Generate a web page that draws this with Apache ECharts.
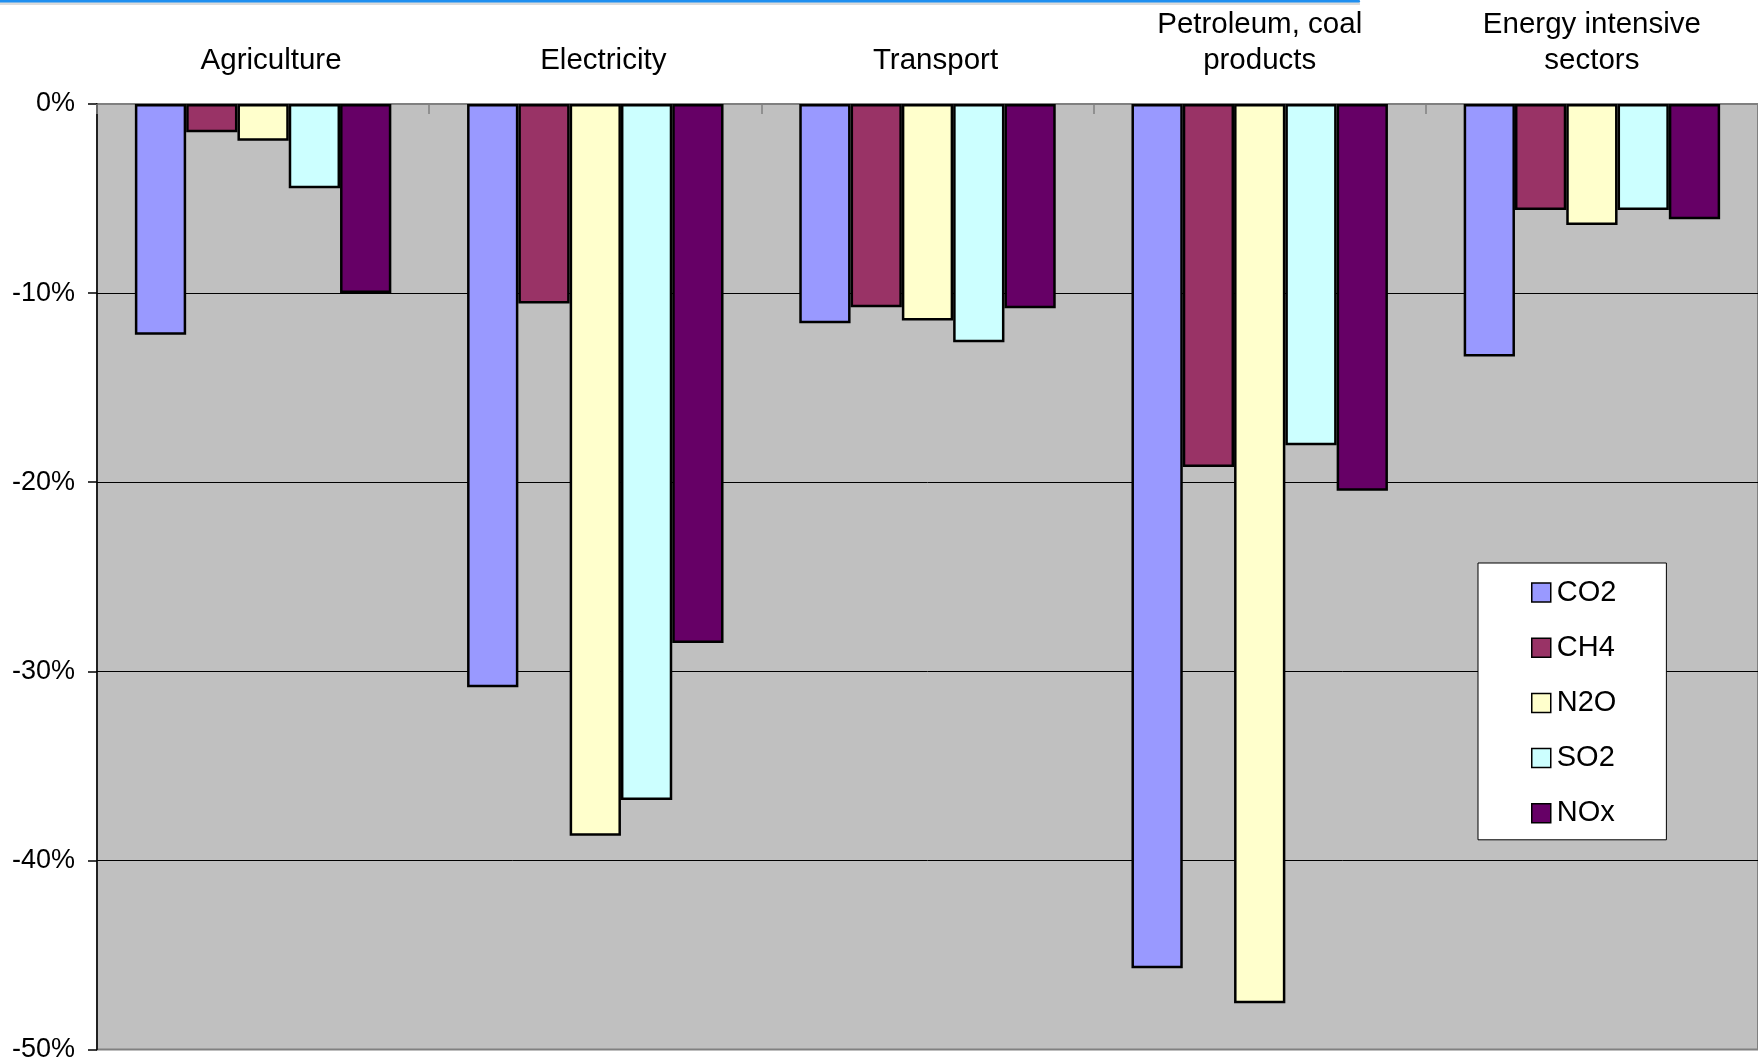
<!DOCTYPE html>
<html>
<head>
<meta charset="utf-8">
<script src="https://cdn.jsdelivr.net/npm/echarts@6/dist/echarts.min.js"></script>
<style>
  html, body { margin: 0; padding: 0; background: #ffffff; }
  #chart { width: 1758px; height: 1063px; }
</style>
</head>
<body>
<div id="chart"></div>
<script>
// Sector categories (shown along the top axis)
const sectors = ['Agriculture', 'Electricity', 'Transport', 'Petroleum, coal\nproducts', 'Energy intensive\nsectors'];

// Emission change by gas, in percent
const gases = ['CO2', 'CH4', 'N2O', 'SO2', 'NOx'];
const co2 = [-12.2, -30.85, -11.6, -45.7, -13.35];
const ch4 = [-1.5, -10.55, -10.75, -19.2, -5.6];
const n2o = [-1.95, -38.7, -11.45, -47.55, -6.4];
const so2 = [-4.45, -36.8, -12.6, -18.05, -5.6];
const nox = [-10.0, -28.5, -10.8, -20.45, -6.1];

// Value axis range and step (percent)
const axisMin = -50;
const axisMax = 0;
const axisStep = 10;

const gasColors = ['#9999FF', '#993366', '#FFFFCC', '#CCFFFF', '#660066'];
const seriesValues = [co2, ch4, n2o, so2, nox];
const FONT = '"Liberation Sans", Arial, Helvetica, sans-serif';

const chart = echarts.init(document.getElementById('chart'), null, { renderer: 'canvas' });

const categoryData = sectors.map(function (s) {
  // single-line captions sit a little right of centre
  return s.indexOf('\n') >= 0 ? s : { value: s, textStyle: { padding: [0, 0, 0, 16] } };
});

chart.setOption({
  backgroundColor: '#ffffff',
  animation: false,
  graphic: [
    { type: 'rect', left: 0, top: 0, shape: { width: 1360, height: 5 }, style: { fill: '#dcdcdc' }, silent: true },
    { type: 'rect', left: 0, top: 0, shape: { width: 1360, height: 2.5, r: [0, 2, 2, 0] }, style: { fill: '#1f8ff0' }, silent: true }
  ],
  grid: {
    left: 97,
    top: 104,
    width: 1662,
    height: 948,
    show: true,
    backgroundColor: '#C0C0C0',
    borderColor: '#808080',
    borderWidth: 2
  },
  legend: {
    orient: 'vertical',
    left: 1478,
    top: 563,
    padding: [15, 50, 12, 53],
    itemWidth: 19,
    itemHeight: 19,
    itemGap: 26.2,
    icon: 'rect',
    backgroundColor: '#ffffff',
    borderColor: '#000000',
    borderWidth: 1,
    itemStyle: { borderColor: '#000000', borderWidth: 1.5 },
    textStyle: { fontFamily: FONT, fontSize: 29, lineHeight: 28, color: '#000000', padding: [0, 0, 0, 1] },
    data: gases
  },
  xAxis: {
    type: 'category',
    position: 'top',
    data: categoryData,
    boundaryGap: true,
    axisLine: { show: false },
    axisTick: { show: true, inside: true, length: 10, lineStyle: { color: '#808080', width: 1.5 } },
    axisLabel: {
      fontFamily: FONT,
      fontSize: 29.5,
      lineHeight: 36,
      color: '#000000',
      margin: 25,
      interval: 0
    },
    splitLine: { show: false }
  },
  yAxis: {
    type: 'value',
    min: axisMin,
    max: axisMax,
    interval: axisStep,
    axisLine: { show: true, lineStyle: { color: '#000000', width: 1.5 } },
    axisTick: { show: true, inside: false, length: 9, lineStyle: { color: '#000000', width: 1.5 } },
    axisLabel: {
      fontFamily: FONT,
      fontSize: 27,
      color: '#000000',
      margin: 22,
      padding: [4, 0, 0, 0],
      formatter: function (v) { return v + '%'; }
    },
    splitLine: { show: true, showMinLine: false, showMaxLine: false, lineStyle: { color: '#000000', width: 1 } }
  },
  series: gases.map(function (g, i) {
    return {
      name: g,
      type: 'bar',
      data: seriesValues[i],
      barGap: '0%',
      barCategoryGap: '22.8%',
      itemStyle: {
        color: gasColors[i],
        borderColor: '#000000',
        borderWidth: 2.5
      }
    };
  })
});
</script>
</body>
</html>
